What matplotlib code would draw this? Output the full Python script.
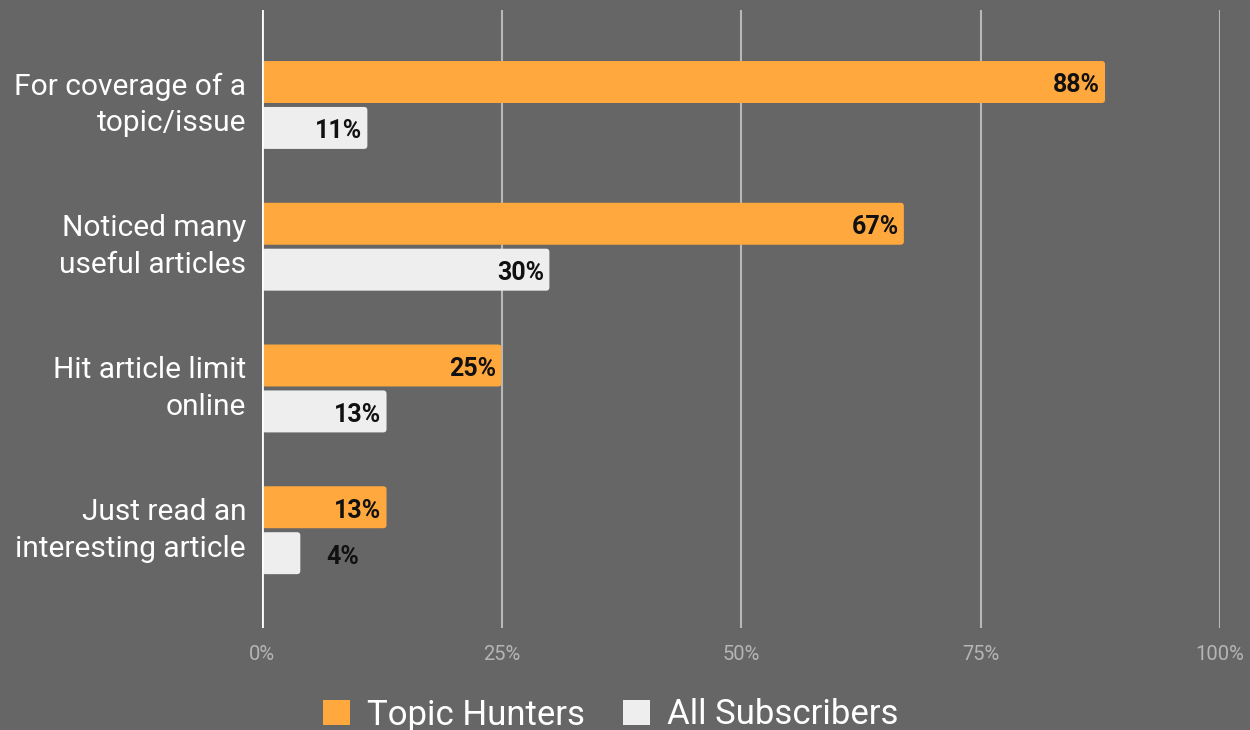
import numpy as np
import matplotlib.pyplot as plt
from matplotlib.patches import Patch, FancyBboxPatch

plt.rcParams['font.family'] = ['Roboto', 'DejaVu Sans']

categories = ['For coverage of a\ntopic/issue',
              'Noticed many\nuseful articles',
              'Hit article limit\nonline',
              'Just read an\ninteresting article']
topic_hunters = [88, 67, 25, 13]
all_subscribers = [11, 30, 13, 4]
xticks = [0, 25, 50, 75, 100]

bg = '#666666'
orange = '#ffa83e'
light = '#eeeeee'

fig = plt.figure(figsize=(12.5, 7.3), dpi=100, facecolor=bg)
ax = fig.add_axes([0.2096, 0.1397, 0.7664, 0.8466], facecolor=bg)

y = np.arange(len(categories))
h = 0.296
off = 0.162
b1 = ax.barh(y - off, topic_hunters, height=h, color=orange, zorder=2)
b2 = ax.barh(y + off, all_subscribers, height=h, color=light, zorder=2)

ax.set_xlim(0, 100)
ax.set_ylim(3.69, -0.67)

# swap plain rectangles for slightly rounded ones (x and y units differ a lot)
aspect = (958 / 100) / (618 / 4.36)
for bars in (b1, b2):
    for r in bars:
        r.set_visible(False)
        ax.add_patch(FancyBboxPatch((r.get_x(), r.get_y()), r.get_width(), r.get_height(),
                                    boxstyle='round,pad=0,rounding_size=0.35',
                                    mutation_aspect=aspect, facecolor=r.get_facecolor(),
                                    edgecolor='none', zorder=2))

# value labels: inside the bar end when they fit, else just past it
for bars, vals in ((b1, topic_hunters), (b2, all_subscribers)):
    for bar, v in zip(bars, vals):
        yc = bar.get_y() + bar.get_height() / 2
        if v >= 8:
            ax.annotate(f'{v}%', (v, yc), xytext=(-3.5, -2.5), textcoords='offset points',
                        ha='right', va='center', fontsize=18, fontweight='bold',
                        color='#111111', zorder=3)
        else:
            ax.annotate(f'{v}%', (v, yc), xytext=(19, -2.5), textcoords='offset points',
                        ha='left', va='center', fontsize=18, fontweight='bold',
                        color='#111111', zorder=3)

ax.set_xticks(xticks)
ax.set_xticklabels([f'{t}%' for t in xticks])
ax.set_yticks(y)
ax.set_yticklabels(categories, fontsize=21.5, color='white', linespacing=1.4)
for lbl in ax.get_yticklabels():
    lbl.set_va('center')
ax.tick_params(axis='y', length=0, pad=11.5)
ax.tick_params(axis='x', length=0, pad=12, labelsize=14.5, labelcolor='#b5b5b5')

for t in xticks[1:]:
    ax.axvline(t, color='#b8b8b8', lw=1.5, zorder=1)
ax.axvline(0, color='white', lw=2, zorder=4)
for s in ax.spines.values():
    s.set_visible(False)

handles = [Patch(facecolor=orange, label='Topic Hunters'),
           Patch(facecolor=light, label='All Subscribers')]
fig.legend(handles=handles, loc='center', bbox_to_anchor=(611 / 1250, 15 / 730),
           ncol=2, frameon=False, fontsize=25, labelcolor='white',
           handlelength=0.76, handleheight=0.76, handletextpad=0.5,
           columnspacing=1.1, borderpad=0)

fig.savefig('out.png', dpi=100, facecolor=bg)
